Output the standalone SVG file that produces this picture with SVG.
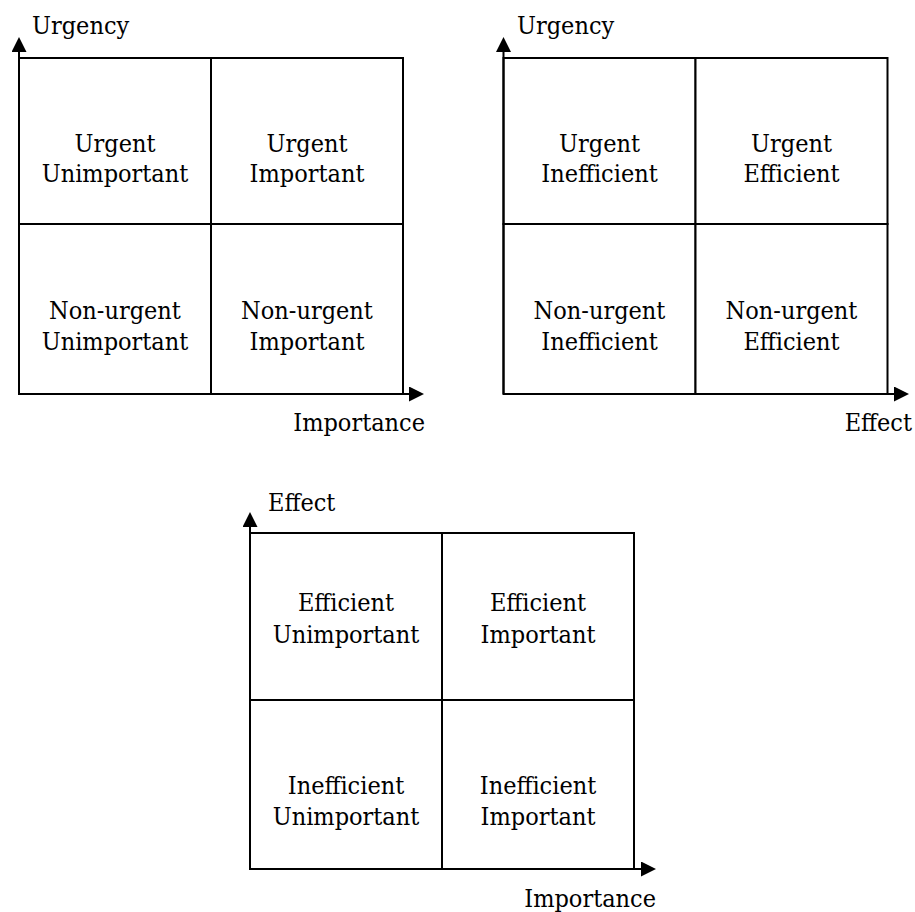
<svg xmlns="http://www.w3.org/2000/svg" width="915" height="912" viewBox="0 0 915 912">
<defs>
<marker id="arr" markerUnits="userSpaceOnUse" markerWidth="16" markerHeight="16" refX="0" refY="7.5" orient="auto">
<path d="M0,0 L15,7.5 L0,15 Z" fill="#000"/>
</marker>
<style>
.cell{fill:#fff;stroke:#000;stroke-width:2}
.axis{stroke:#000;stroke-width:2;fill:none;marker-end:url(#arr)}
.t{font-family:"DejaVu Serif Condensed","DejaVu Serif",serif;font-stretch:condensed;font-size:25px;fill:#000;text-anchor:middle}
.lab{font-family:"DejaVu Serif Condensed","DejaVu Serif",serif;font-stretch:condensed;font-size:25px;fill:#000}
</style>
</defs>
<rect width="915" height="912" fill="#fff"/>

<!-- Panel 1 -->
<g id="p1-urgent-unimportant"><rect class="cell" x="19" y="58" width="192" height="166"/><text class="t" x="115" y="152">Urgent</text><text class="t" x="115" y="182">Unimportant</text></g>
<g id="p1-urgent-important"><rect class="cell" x="211" y="58" width="192" height="166"/><text class="t" x="307" y="152">Urgent</text><text class="t" x="307" y="182">Important</text></g>
<g id="p1-nonurgent-unimportant"><rect class="cell" x="19" y="224" width="192" height="170"/><text class="t" x="115" y="319">Non-urgent</text><text class="t" x="115" y="350">Unimportant</text></g>
<g id="p1-nonurgent-important"><rect class="cell" x="211" y="224" width="192" height="170"/><text class="t" x="307" y="319">Non-urgent</text><text class="t" x="307" y="350">Important</text></g>
<g id="p1-labels"><text class="lab" x="32" y="34">Urgency</text><text class="lab" x="425" y="431" text-anchor="end">Importance</text></g>

<!-- Panel 2 -->
<g id="p2-urgent-inefficient"><rect class="cell" x="503.5" y="58" width="192" height="166"/><text class="t" x="599.5" y="152">Urgent</text><text class="t" x="599.5" y="182">Inefficient</text></g>
<g id="p2-urgent-efficient"><rect class="cell" x="695.5" y="58" width="192" height="166"/><text class="t" x="791.5" y="152">Urgent</text><text class="t" x="791.5" y="182">Efficient</text></g>
<g id="p2-nonurgent-inefficient"><rect class="cell" x="503.5" y="224" width="192" height="170"/><text class="t" x="599.5" y="319">Non-urgent</text><text class="t" x="599.5" y="350">Inefficient</text></g>
<g id="p2-nonurgent-efficient"><rect class="cell" x="695.5" y="224" width="192" height="170"/><text class="t" x="791.5" y="319">Non-urgent</text><text class="t" x="791.5" y="350">Efficient</text></g>
<g id="p2-labels"><text class="lab" x="517" y="34">Urgency</text><text class="lab" x="912" y="431" text-anchor="end">Effect</text></g>

<!-- Panel 3 -->
<g id="p3-efficient-unimportant"><rect class="cell" x="250" y="533" width="192" height="167"/><text class="t" x="346" y="611">Efficient</text><text class="t" x="346" y="643">Unimportant</text></g>
<g id="p3-efficient-important"><rect class="cell" x="442" y="533" width="192" height="167"/><text class="t" x="538" y="611">Efficient</text><text class="t" x="538" y="643">Important</text></g>
<g id="p3-inefficient-unimportant"><rect class="cell" x="250" y="700" width="192" height="169"/><text class="t" x="346" y="794">Inefficient</text><text class="t" x="346" y="825">Unimportant</text></g>
<g id="p3-inefficient-important"><rect class="cell" x="442" y="700" width="192" height="169"/><text class="t" x="538" y="794">Inefficient</text><text class="t" x="538" y="825">Important</text></g>
<g id="p3-labels"><text class="lab" x="268" y="511">Effect</text><text class="lab" x="656" y="907" text-anchor="end">Importance</text></g>

<g id="connectors">
<line class="axis" x1="19" y1="394" x2="19" y2="52"/>
<line class="axis" x1="19" y1="394" x2="409" y2="394"/>
<line class="axis" x1="503.5" y1="394" x2="503.5" y2="52"/>
<line class="axis" x1="503.5" y1="394" x2="894" y2="394"/>
<line class="axis" x1="250" y1="869" x2="250" y2="527"/>
<line class="axis" x1="250" y1="869" x2="641" y2="869"/>
</g>
</svg>
